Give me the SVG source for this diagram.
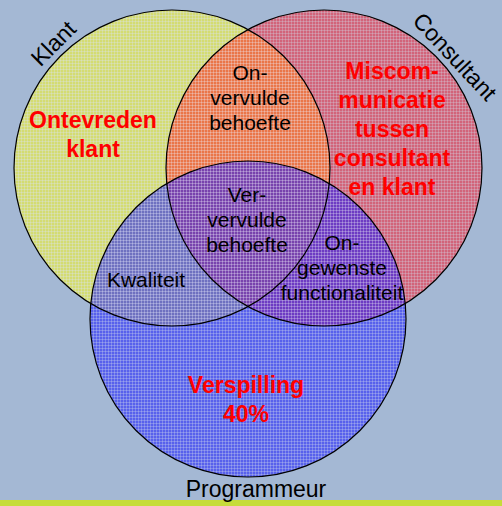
<svg xmlns="http://www.w3.org/2000/svg" width="502" height="506" viewBox="0 0 502 506">
  <defs>
    <pattern id="py" width="3" height="3" patternUnits="userSpaceOnUse">
      <rect width="3" height="3" fill="#f4f430"/>
      <path d="M0 0.5H3M0.5 0V3" stroke="#ffffff" stroke-opacity="0.35" stroke-width="1"/>
    </pattern>
    <pattern id="pr" width="3" height="3" patternUnits="userSpaceOnUse">
      <rect width="3" height="3" fill="#ff1020"/>
      <path d="M0 0.5H3M0.5 0V3" stroke="#ffffff" stroke-opacity="0.3" stroke-width="1"/>
    </pattern>
    <pattern id="pb" width="3" height="3" patternUnits="userSpaceOnUse">
      <rect width="3" height="3" fill="#1a1aff"/>
      <path d="M0 0.5H3M0.5 0V3" stroke="#ffffff" stroke-opacity="0.3" stroke-width="1"/>
    </pattern>
  </defs>
  <style>
    .lbl{font-family:"Liberation Sans",Arial,sans-serif;font-size:21px;fill:#000;text-anchor:middle}
    .big{font-family:"Liberation Sans",Arial,sans-serif;font-size:23px;fill:#000;text-anchor:middle}
    .red{font-family:"Liberation Sans",Arial,sans-serif;font-size:23px;font-weight:bold;fill:#ff0000;text-anchor:middle}
    .ring{fill:none;stroke:#000;stroke-width:1.2}
  </style>
  <rect width="502" height="506" fill="#a4b8d4"/>
  <rect x="0" y="500" width="502" height="6" fill="#c6dc3a"/>

  <g id="klant">
    <circle cx="172" cy="168" r="158" fill="url(#py)" opacity="0.6"/>
  </g>
  <g id="consultant">
    <circle cx="324" cy="168" r="158" fill="url(#pr)" opacity="0.5"/>
  </g>
  <g id="programmeur">
    <circle cx="248" cy="319" r="158" fill="url(#pb)" opacity="0.55"/>
  </g>
  <g id="outlines">
    <circle class="ring" cx="172" cy="168" r="158"/>
    <circle class="ring" cx="324" cy="168" r="158"/>
    <circle class="ring" cx="248" cy="319" r="158"/>
  </g>

  <g id="labels">
    <text class="big" transform="translate(59,49) rotate(-45)">Klant</text>
    <text class="big" transform="translate(449,62) rotate(47)">Consultant</text>
    <text class="big" x="256" y="497">Programmeur</text>

    <text class="red" x="93" y="128">Ontevreden</text>
    <text class="red" x="93" y="157">klant</text>

    <text class="red" x="392" y="79">Miscom-</text>
    <text class="red" x="392" y="108">municatie</text>
    <text class="red" x="392" y="137">tussen</text>
    <text class="red" x="392" y="166">consultant</text>
    <text class="red" x="392" y="195">en klant</text>

    <text class="red" x="246" y="393">Verspilling</text>
    <text class="red" x="246" y="422">40%</text>

    <text class="lbl" x="250" y="80">On-</text>
    <text class="lbl" x="250" y="105">vervulde</text>
    <text class="lbl" x="250" y="130">behoefte</text>

    <text class="lbl" x="247" y="202">Ver-</text>
    <text class="lbl" x="247" y="227">vervulde</text>
    <text class="lbl" x="247" y="252">behoefte</text>

    <text class="lbl" x="146" y="287">Kwaliteit</text>

    <text class="lbl" x="342" y="250">On-</text>
    <text class="lbl" x="342" y="275">gewenste</text>
    <text class="lbl" x="342" y="300">functionaliteit</text>
  </g>
</svg>
